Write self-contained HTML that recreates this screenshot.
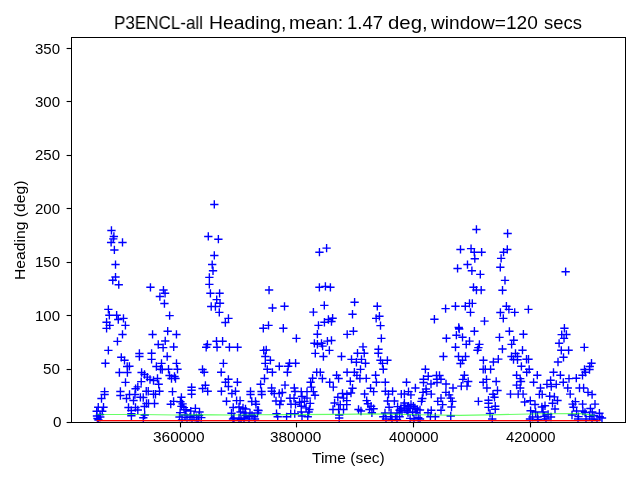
<!DOCTYPE html>
<html><head><meta charset="utf-8"><style>
html,body{margin:0;padding:0;background:#fff;width:640px;height:480px;overflow:hidden;position:relative}
.t{position:absolute;font-family:"Liberation Sans",sans-serif;color:#000;white-space:nowrap;line-height:1;transform-origin:0 0;will-change:transform}
</style></head><body>
<svg width="640" height="480" viewBox="0 0 640 480" style="position:absolute;left:0;top:0"><defs><clipPath id="c"><rect x="71.5" y="37.5" width="554" height="385"/></clipPath></defs><g clip-path="url(#c)"><rect x="96.7" y="421.35" width="503.6" height="0.65" fill="#b8cec8"/><path d="M107.28 230.43h8.33M111.45 226.26v8.33M109.72 236.44h8.33M113.89 232.27v8.33M109.07 238.88h8.33M113.24 234.71v8.33M106.96 242.45h8.33M111.12 238.28v8.33M118.33 242.45h8.33M122.50 238.28v8.33M110.21 249.93h8.33M114.38 245.76v8.33M111.35 264.55h8.33M115.51 260.38v8.33M210.15 204.43h8.33M214.31 200.26v8.33M204.14 236.44h8.33M208.30 232.27v8.33M214.21 239.20h8.33M218.38 235.03v8.33M210.15 255.45h8.33M214.31 251.28v8.33M208.03 264.55h8.33M212.20 260.38v8.33M208.85 270.73h8.33M213.01 266.56v8.33M315.28 252.20h8.33M319.45 248.03v8.33M322.44 248.14h8.33M326.60 243.97v8.33M472.26 229.45h8.33M476.43 225.28v8.33M456.33 249.44h8.33M460.50 245.27v8.33M466.90 248.62h8.33M471.06 244.46v8.33M470.15 252.20h8.33M474.31 248.03v8.33M477.46 252.20h8.33M481.62 248.03v8.33M470.63 258.70h8.33M474.80 254.53v8.33M463.32 264.55h8.33M467.49 260.38v8.33M453.41 268.45h8.33M457.57 264.28v8.33M467.71 270.73h8.33M471.88 266.56v8.33M496.96 258.38h8.33M501.12 254.21v8.33M496.15 267.31h8.33M500.31 263.15v8.33M499.40 252.20h8.33M503.56 248.03v8.33M503.46 233.51h8.33M507.62 229.35v8.33M503.13 249.44h8.33M507.30 245.27v8.33M561.47 271.70h8.33M565.64 267.53v8.33M111.35 277.06h8.33M115.51 272.90v8.33M108.58 280.31h8.33M112.75 276.15v8.33M114.60 284.70h8.33M118.76 280.53v8.33M146.28 287.30h8.33M150.45 283.13v8.33M159.28 290.06h8.33M163.45 285.90v8.33M160.91 293.31h8.33M165.07 289.15v8.33M155.71 296.56h8.33M159.88 292.40v8.33M160.26 303.55h8.33M164.43 299.38v8.33M165.46 315.57h8.33M169.62 311.41v8.33M104.20 309.40h8.33M108.36 305.23v8.33M105.17 315.25h8.33M109.34 311.08v8.33M112.48 315.25h8.33M116.65 311.08v8.33M114.11 319.48h8.33M118.28 315.31v8.33M119.31 318.34h8.33M123.47 314.17v8.33M121.26 325.32h8.33M125.42 321.16v8.33M102.41 322.24h8.33M106.58 318.07v8.33M105.50 325.32h8.33M109.66 321.16v8.33M102.41 328.41h8.33M106.58 324.25v8.33M118.33 334.43h8.33M122.50 330.26v8.33M113.30 341.41h8.33M117.46 337.25v8.33M104.20 350.35h8.33M108.36 346.19v8.33M148.40 334.43h8.33M152.56 330.26v8.33M163.51 331.18h8.33M167.68 327.01v8.33M172.28 334.43h8.33M176.45 330.26v8.33M161.07 340.93h8.33M165.24 336.76v8.33M154.09 344.50h8.33M158.25 340.33v8.33M158.96 347.59h8.33M163.12 343.42v8.33M169.52 346.94h8.33M173.69 342.77v8.33M205.19 277.39h8.33M209.36 273.22v8.33M205.19 284.38h8.33M209.36 280.21v8.33M206.25 293.31h8.33M210.41 289.15v8.33M215.43 293.31h8.33M219.59 289.15v8.33M212.54 299.60h8.33M216.70 295.44v8.33M215.84 303.31h8.33M220.00 299.14v8.33M207.06 306.48h8.33M211.22 302.31v8.33M211.24 306.48h8.33M215.40 302.31v8.33M215.14 312.32h8.33M219.30 308.16v8.33M224.28 318.34h8.33M228.45 314.17v8.33M221.20 322.56h8.33M225.36 318.40v8.33M203.24 344.50h8.33M207.41 340.33v8.33M202.02 347.26h8.33M206.19 343.10v8.33M212.34 341.25h8.33M216.51 337.08v8.33M218.44 341.25h8.33M222.60 337.08v8.33M212.91 347.26h8.33M217.07 343.10v8.33M225.26 347.26h8.33M229.43 343.10v8.33M233.39 347.26h8.33M237.55 343.10v8.33M264.91 290.06h8.33M269.07 285.90v8.33M268.32 307.94h8.33M272.49 303.77v8.33M280.35 306.31h8.33M284.51 302.15v8.33M264.34 325.41h8.33M268.51 321.24v8.33M259.14 328.25h8.33M263.31 324.08v8.33M279.14 328.25h8.33M283.31 324.08v8.33M292.21 338.32h8.33M296.38 334.16v8.33M259.55 350.35h8.33M263.71 346.19v8.33M315.24 287.30h8.33M319.40 283.13v8.33M321.23 286.41h8.33M325.40 282.24v8.33M326.24 287.30h8.33M330.40 283.13v8.33M320.16 305.40h8.33M324.32 301.24v8.33M309.24 312.10h8.33M313.40 307.93v8.33M314.31 325.32h8.33M318.48 321.16v8.33M320.24 322.24h8.33M324.41 318.07v8.33M324.22 319.48h8.33M328.39 315.31v8.33M328.45 318.26h8.33M332.61 314.09v8.33M327.31 321.51h8.33M331.48 317.34v8.33M313.24 334.20h8.33M317.40 330.03v8.33M310.25 343.30h8.33M314.41 339.13v8.33M313.24 344.26h8.33M317.40 340.09v8.33M317.33 343.30h8.33M321.50 339.13v8.33M318.44 346.12h8.33M322.60 341.96v8.33M323.25 341.09h8.33M327.41 336.92v8.33M327.31 340.44h8.33M331.48 336.27v8.33M325.20 350.35h8.33M329.36 346.19v8.33M350.43 302.20h8.33M354.60 298.04v8.33M348.34 314.26h8.33M352.50 310.09v8.33M349.25 331.18h8.33M353.41 327.01v8.33M343.04 334.41h8.33M347.20 330.24v8.33M373.13 306.31h8.33M377.30 302.15v8.33M375.25 316.23h8.33M379.41 312.06v8.33M372.00 318.34h8.33M376.16 314.17v8.33M376.34 325.60h8.33M380.50 321.44v8.33M377.20 338.41h8.33M381.36 334.24v8.33M358.83 346.90h8.33M363.00 342.74v8.33M374.34 349.29h8.33M378.50 345.13v8.33M476.16 274.40h8.33M480.32 270.23v8.33M469.33 287.30h8.33M473.50 283.13v8.33M472.26 290.06h8.33M476.43 285.90v8.33M477.04 290.06h8.33M481.20 285.90v8.33M441.43 308.59h8.33M445.60 304.42v8.33M451.30 306.25h8.33M455.46 302.08v8.33M461.14 306.25h8.33M465.31 302.08v8.33M465.34 303.39h8.33M469.50 299.22v8.33M468.13 303.39h8.33M472.30 299.22v8.33M466.33 312.32h8.33M470.49 308.16v8.33M430.24 319.25h8.33M434.40 315.08v8.33M454.58 327.50h8.33M458.75 323.34v8.33M455.03 329.00h8.33M459.20 324.83v8.33M470.23 331.26h8.33M474.39 327.09v8.33M480.34 321.10h8.33M484.50 316.94v8.33M442.23 338.29h8.33M446.39 334.13v8.33M452.24 335.20h8.33M456.40 331.04v8.33M458.33 337.30h8.33M462.50 333.14v8.33M465.34 341.09h8.33M469.50 336.92v8.33M462.09 344.40h8.33M466.25 340.24v8.33M451.33 347.20h8.33M455.50 343.03v8.33M475.23 344.40h8.33M479.40 340.24v8.33M474.21 347.59h8.33M478.38 343.42v8.33M500.83 280.39h8.33M504.99 276.23v8.33M498.34 290.23h8.33M502.51 286.06v8.33M496.23 312.49h8.33M500.39 308.32v8.33M499.14 318.40h8.33M503.30 314.24v8.33M495.33 337.40h8.33M499.50 333.23v8.33M498.26 349.05h8.33M502.43 344.88v8.33M502.24 306.25h8.33M506.41 302.08v8.33M504.73 309.40h8.33M508.89 305.23v8.33M510.53 312.41h8.33M514.69 308.24v8.33M524.24 309.40h8.33M528.41 305.23v8.33M505.23 331.31h8.33M509.40 327.14v8.33M519.22 334.26h8.33M523.39 330.10v8.33M509.59 340.27h8.33M513.75 336.11v8.33M507.44 344.37h8.33M511.61 340.20v8.33M518.33 350.19h8.33M522.49 346.02v8.33M560.24 328.25h8.33M564.40 324.08v8.33M557.54 334.59h8.33M561.71 330.42v8.33M562.24 334.43h8.33M566.40 330.26v8.33M559.85 338.41h8.33M564.01 334.24v8.33M554.94 343.30h8.33M559.11 339.13v8.33M557.13 350.30h8.33M561.30 346.14v8.33M564.43 350.30h8.33M568.60 346.14v8.33M580.13 347.39h8.33M584.29 343.23v8.33M101.23 363.30h8.33M105.40 359.13v8.33M117.13 357.30h8.33M121.30 353.13v8.33M120.33 360.30h8.33M124.50 356.13v8.33M125.23 366.30h8.33M129.40 362.13v8.33M123.23 372.50h8.33M127.40 368.33v8.33M115.23 372.50h8.33M119.40 368.33v8.33M121.33 382.40h8.33M125.50 378.23v8.33M135.24 353.50h8.33M139.40 349.33v8.33M135.24 356.50h8.33M139.40 352.33v8.33M137.44 372.50h8.33M141.60 368.33v8.33M137.09 381.60h8.33M141.25 377.44v8.33M133.64 386.90h8.33M137.80 382.73v8.33M131.44 388.75h8.33M135.60 384.58v8.33M147.44 353.30h8.33M151.60 349.13v8.33M147.44 359.40h8.33M151.60 355.23v8.33M163.03 356.50h8.33M167.20 352.33v8.33M157.34 363.40h8.33M161.50 359.23v8.33M172.34 363.40h8.33M176.50 359.23v8.33M152.24 366.50h8.33M156.40 362.33v8.33M156.34 369.25h8.33M160.50 365.08v8.33M158.09 369.50h8.33M162.25 365.33v8.33M164.34 369.25h8.33M168.50 365.08v8.33M173.34 369.25h8.33M177.50 365.08v8.33M165.34 375.50h8.33M169.50 371.33v8.33M170.34 376.50h8.33M174.50 372.33v8.33M167.34 378.50h8.33M171.50 374.33v8.33M171.34 378.50h8.33M175.50 374.33v8.33M153.34 378.50h8.33M157.50 374.33v8.33M149.34 380.50h8.33M153.50 376.33v8.33M140.34 374.50h8.33M144.50 370.33v8.33M143.14 377.10h8.33M147.30 372.94v8.33M145.84 379.50h8.33M150.00 375.33v8.33M154.53 384.30h8.33M158.70 380.13v8.33M187.44 387.30h8.33M191.60 383.13v8.33M187.44 390.20h8.33M191.60 386.03v8.33M219.24 363.35h8.33M223.40 359.19v8.33M217.03 372.30h8.33M221.20 368.13v8.33M198.34 369.50h8.33M202.50 365.33v8.33M200.03 372.30h8.33M204.20 368.13v8.33M224.24 379.30h8.33M228.40 375.13v8.33M221.34 382.20h8.33M225.50 378.03v8.33M233.24 382.20h8.33M237.40 378.03v8.33M224.24 386.50h8.33M228.40 382.33v8.33M201.24 385.30h8.33M205.40 381.13v8.33M198.44 388.50h8.33M202.60 384.33v8.33M262.08 350.00h8.33M266.25 345.83v8.33M261.13 356.50h8.33M265.30 352.33v8.33M266.23 360.30h8.33M270.40 356.13v8.33M261.13 363.35h8.33M265.30 359.19v8.33M263.13 369.30h8.33M267.30 365.13v8.33M268.23 372.30h8.33M272.40 368.13v8.33M275.13 366.30h8.33M279.30 362.13v8.33M285.33 363.20h8.33M289.50 359.03v8.33M291.44 363.20h8.33M295.60 359.03v8.33M284.03 366.30h8.33M288.20 362.13v8.33M283.23 372.30h8.33M287.40 368.13v8.33M260.33 378.50h8.33M264.50 374.33v8.33M256.44 384.30h8.33M260.60 380.13v8.33M280.83 385.10h8.33M285.00 380.94v8.33M290.13 388.00h8.33M294.30 383.83v8.33M267.44 388.00h8.33M271.60 383.83v8.33M311.13 353.40h8.33M315.30 349.23v8.33M319.23 356.50h8.33M323.40 352.33v8.33M337.33 356.50h8.33M341.50 352.33v8.33M312.53 372.30h8.33M316.70 368.13v8.33M316.13 372.30h8.33M320.30 368.13v8.33M308.44 378.20h8.33M312.60 374.03v8.33M306.44 382.30h8.33M310.60 378.13v8.33M318.23 378.50h8.33M322.40 374.33v8.33M332.44 375.20h8.33M336.60 371.03v8.33M334.44 378.50h8.33M338.60 374.33v8.33M325.53 382.30h8.33M329.70 378.13v8.33M329.13 387.15h8.33M333.30 382.98v8.33M307.23 387.15h8.33M311.40 382.98v8.33M342.94 372.30h8.33M347.10 368.13v8.33M353.33 353.25h8.33M357.50 349.08v8.33M360.08 353.25h8.33M364.25 349.08v8.33M374.13 353.30h8.33M378.30 349.13v8.33M347.33 359.40h8.33M351.50 355.23v8.33M352.23 362.25h8.33M356.40 358.08v8.33M357.33 359.40h8.33M361.50 355.23v8.33M361.33 363.25h8.33M365.50 359.08v8.33M356.33 369.40h8.33M360.50 365.23v8.33M350.23 372.25h8.33M354.40 368.08v8.33M352.73 375.40h8.33M356.90 371.23v8.33M355.73 378.50h8.33M359.90 374.33v8.33M362.08 378.40h8.33M366.25 374.23v8.33M346.13 381.30h8.33M350.30 377.13v8.33M348.33 388.20h8.33M352.50 384.03v8.33M366.44 388.20h8.33M370.60 384.03v8.33M376.33 360.30h8.33M380.50 356.13v8.33M383.23 360.30h8.33M387.40 356.13v8.33M378.33 363.35h8.33M382.50 359.19v8.33M379.13 369.30h8.33M383.30 365.13v8.33M371.44 375.20h8.33M375.60 371.03v8.33M372.23 382.30h8.33M376.40 378.13v8.33M381.13 382.30h8.33M385.30 378.13v8.33M439.23 356.50h8.33M443.40 352.33v8.33M421.23 369.30h8.33M425.40 365.13v8.33M402.33 382.30h8.33M406.50 378.13v8.33M411.23 388.00h8.33M415.40 383.83v8.33M424.08 376.25h8.33M428.25 372.08v8.33M419.33 379.25h8.33M423.50 375.08v8.33M419.33 382.50h8.33M423.50 378.33v8.33M432.33 375.50h8.33M436.50 371.33v8.33M435.33 375.50h8.33M439.50 371.33v8.33M432.83 379.25h8.33M437.00 375.08v8.33M436.83 379.25h8.33M441.00 375.08v8.33M426.83 384.00h8.33M431.00 379.83v8.33M432.83 382.50h8.33M437.00 378.33v8.33M441.83 384.00h8.33M446.00 379.83v8.33M421.83 389.00h8.33M426.00 384.83v8.33M454.33 356.50h8.33M458.50 352.33v8.33M461.33 356.50h8.33M465.50 352.33v8.33M458.33 360.25h8.33M462.50 356.08v8.33M456.33 363.50h8.33M460.50 359.33v8.33M479.23 360.30h8.33M483.40 356.13v8.33M489.23 362.00h8.33M493.40 357.83v8.33M494.13 359.10h8.33M498.30 354.94v8.33M479.03 369.30h8.33M483.20 365.13v8.33M481.13 369.30h8.33M485.30 365.13v8.33M486.44 369.30h8.33M490.60 365.13v8.33M460.23 375.20h8.33M464.40 371.03v8.33M458.73 379.40h8.33M462.90 375.23v8.33M464.03 381.50h8.33M468.20 377.33v8.33M457.13 386.10h8.33M461.30 381.94v8.33M462.83 386.10h8.33M467.00 381.94v8.33M448.83 388.00h8.33M453.00 383.83v8.33M479.03 382.30h8.33M483.20 378.13v8.33M482.33 379.40h8.33M486.50 375.23v8.33M482.73 388.00h8.33M486.90 383.83v8.33M492.03 381.50h8.33M496.20 377.33v8.33M511.33 353.50h8.33M515.50 349.33v8.33M507.33 356.50h8.33M511.50 352.33v8.33M513.34 356.50h8.33M517.50 352.33v8.33M509.33 359.50h8.33M513.50 355.33v8.33M513.34 359.75h8.33M517.50 355.58v8.33M522.34 359.25h8.33M526.50 355.08v8.33M524.34 359.25h8.33M528.50 355.08v8.33M517.24 366.30h8.33M521.40 362.13v8.33M525.04 369.30h8.33M529.20 365.13v8.33M522.54 372.30h8.33M526.70 368.13v8.33M512.44 375.20h8.33M516.60 371.03v8.33M516.04 378.60h8.33M520.20 374.44v8.33M516.84 381.50h8.33M521.00 377.33v8.33M512.44 385.10h8.33M516.60 380.94v8.33M516.04 388.00h8.33M520.20 383.83v8.33M533.13 375.20h8.33M537.30 371.03v8.33M529.44 382.30h8.33M533.60 378.13v8.33M536.34 388.00h8.33M540.50 383.83v8.33M549.34 372.30h8.33M553.50 368.13v8.33M546.44 380.30h8.33M550.60 376.13v8.33M542.74 384.40h8.33M546.90 380.23v8.33M552.09 384.40h8.33M556.25 380.23v8.33M547.09 386.50h8.33M551.25 382.33v8.33M559.34 357.30h8.33M563.50 353.13v8.33M553.84 362.00h8.33M558.00 357.83v8.33M587.34 363.25h8.33M591.50 359.08v8.33M585.59 366.50h8.33M589.75 362.33v8.33M580.34 369.50h8.33M584.50 365.33v8.33M585.34 369.50h8.33M589.50 365.33v8.33M581.34 372.25h8.33M585.50 368.08v8.33M578.34 375.25h8.33M582.50 371.08v8.33M556.24 375.20h8.33M560.40 371.03v8.33M564.84 378.60h8.33M569.00 374.44v8.33M572.13 378.20h8.33M576.30 374.03v8.33M559.13 382.30h8.33M563.30 378.13v8.33M563.59 388.00h8.33M567.75 383.83v8.33M575.34 388.00h8.33M579.50 383.83v8.33M579.44 388.00h8.33M583.60 383.83v8.33M100.43 391.60h8.33M104.60 387.44v8.33M100.43 394.50h8.33M104.60 390.33v8.33M97.33 398.50h8.33M101.50 394.33v8.33M116.23 391.50h8.33M120.40 387.33v8.33M116.23 395.50h8.33M120.40 391.33v8.33M125.33 394.50h8.33M129.50 390.33v8.33M130.84 394.50h8.33M135.00 390.33v8.33M122.33 398.50h8.33M126.50 394.33v8.33M129.34 400.50h8.33M133.50 396.33v8.33M136.24 397.30h8.33M140.40 393.13v8.33M94.08 407.25h8.33M98.25 403.08v8.33M99.33 407.25h8.33M103.50 403.08v8.33M92.53 411.25h8.33M96.70 407.08v8.33M98.08 411.25h8.33M102.25 407.08v8.33M96.08 417.00h8.33M100.25 412.83v8.33M93.33 418.50h8.33M97.50 414.33v8.33M124.33 407.50h8.33M128.50 403.33v8.33M131.34 407.50h8.33M135.50 403.33v8.33M127.23 413.60h8.33M131.40 409.44v8.33M127.08 410.50h8.33M131.25 406.33v8.33M133.64 410.00h8.33M137.80 405.83v8.33M142.09 391.25h8.33M146.25 387.08v8.33M144.09 391.25h8.33M148.25 387.08v8.33M155.34 391.25h8.33M159.50 387.08v8.33M149.34 394.25h8.33M153.50 390.08v8.33M151.34 394.25h8.33M155.50 390.08v8.33M139.09 397.50h8.33M143.25 393.33v8.33M142.34 403.50h8.33M146.50 399.33v8.33M144.34 403.50h8.33M148.50 399.33v8.33M150.34 403.50h8.33M154.50 399.33v8.33M140.34 406.50h8.33M144.50 402.33v8.33M168.34 391.60h8.33M172.50 387.44v8.33M187.44 394.20h8.33M191.60 390.03v8.33M169.44 401.40h8.33M173.60 397.23v8.33M166.59 404.20h8.33M170.75 400.03v8.33M177.24 397.30h8.33M181.40 393.13v8.33M176.24 401.70h8.33M180.40 397.53v8.33M178.44 403.90h8.33M182.60 399.73v8.33M177.24 406.40h8.33M181.40 402.23v8.33M179.74 407.60h8.33M183.90 403.44v8.33M181.84 409.80h8.33M186.00 405.63v8.33M175.94 412.60h8.33M180.10 408.44v8.33M175.34 417.00h8.33M179.50 412.83v8.33M182.84 417.60h8.33M187.00 413.44v8.33M185.84 417.00h8.33M190.00 412.83v8.33M140.53 415.00h8.33M144.70 410.83v8.33M139.14 417.80h8.33M143.30 413.63v8.33M94.33 420.00h8.33M98.50 415.83v8.33M127.23 415.80h8.33M131.40 411.63v8.33M186.59 411.10h8.33M190.75 406.94v8.33M203.53 391.30h8.33M207.70 387.13v8.33M217.24 391.30h8.33M221.40 387.13v8.33M231.34 391.30h8.33M235.50 387.13v8.33M227.74 393.50h8.33M231.90 389.33v8.33M222.34 401.30h8.33M226.50 397.13v8.33M232.44 400.60h8.33M236.60 396.44v8.33M235.94 400.60h8.33M240.10 396.44v8.33M191.24 408.40h8.33M195.40 404.23v8.33M195.34 412.00h8.33M199.50 407.83v8.33M192.24 417.60h8.33M196.40 413.44v8.33M197.14 417.60h8.33M201.30 413.44v8.33M229.09 407.50h8.33M233.25 403.33v8.33M234.84 407.00h8.33M239.00 402.83v8.33M238.84 408.00h8.33M243.00 403.83v8.33M227.34 413.25h8.33M231.50 409.08v8.33M236.34 412.00h8.33M240.50 407.83v8.33M240.84 413.00h8.33M245.00 408.83v8.33M229.84 418.00h8.33M234.00 413.83v8.33M234.84 418.00h8.33M239.00 413.83v8.33M239.84 418.00h8.33M244.00 413.83v8.33M246.34 391.50h8.33M250.50 387.33v8.33M246.34 394.50h8.33M250.50 390.33v8.33M257.33 391.50h8.33M261.50 387.33v8.33M257.58 394.50h8.33M261.75 390.33v8.33M247.59 401.50h8.33M251.75 397.33v8.33M251.34 401.50h8.33M255.50 397.33v8.33M251.84 404.25h8.33M256.00 400.08v8.33M253.59 410.25h8.33M257.75 406.08v8.33M241.34 409.00h8.33M245.50 404.83v8.33M267.58 391.25h8.33M271.75 387.08v8.33M270.08 393.50h8.33M274.25 389.33v8.33M278.08 392.50h8.33M282.25 388.33v8.33M275.08 393.50h8.33M279.25 389.33v8.33M271.83 401.00h8.33M276.00 396.83v8.33M276.83 401.00h8.33M281.00 396.83v8.33M275.58 404.50h8.33M279.75 400.33v8.33M290.83 391.50h8.33M295.00 387.33v8.33M285.83 398.25h8.33M290.00 394.08v8.33M289.83 398.25h8.33M294.00 394.08v8.33M286.83 404.25h8.33M291.00 400.08v8.33M291.33 404.25h8.33M295.50 400.08v8.33M245.09 416.80h8.33M249.25 412.63v8.33M249.94 416.80h8.33M254.10 412.63v8.33M272.33 413.60h8.33M276.50 409.44v8.33M273.53 416.80h8.33M277.70 412.63v8.33M282.44 416.80h8.33M286.60 412.63v8.33M286.53 413.60h8.33M290.70 409.44v8.33M290.58 413.60h8.33M294.75 409.44v8.33M297.08 391.60h8.33M301.25 387.44v8.33M302.83 391.60h8.33M307.00 387.44v8.33M309.23 391.60h8.33M313.40 387.44v8.33M310.83 395.30h8.33M315.00 391.13v8.33M297.83 396.50h8.33M302.00 392.33v8.33M302.83 398.10h8.33M307.00 393.94v8.33M295.44 402.20h8.33M299.60 398.03v8.33M300.33 401.40h8.33M304.50 397.23v8.33M306.03 403.40h8.33M310.20 399.23v8.33M297.08 406.25h8.33M301.25 402.08v8.33M301.94 407.90h8.33M306.10 403.73v8.33M305.23 409.50h8.33M309.40 405.33v8.33M297.08 412.00h8.33M301.25 407.83v8.33M304.44 412.00h8.33M308.60 407.83v8.33M297.83 416.00h8.33M302.00 411.83v8.33M303.58 416.80h8.33M307.75 412.63v8.33M338.33 393.50h8.33M342.50 389.33v8.33M342.73 394.40h8.33M346.90 390.23v8.33M333.63 397.30h8.33M337.80 393.13v8.33M339.33 398.10h8.33M343.50 393.94v8.33M342.58 400.60h8.33M346.75 396.44v8.33M330.44 403.00h8.33M334.60 398.83v8.33M336.08 404.60h8.33M340.25 400.44v8.33M342.58 404.60h8.33M346.75 400.44v8.33M328.83 409.50h8.33M333.00 405.33v8.33M334.44 409.50h8.33M338.60 405.33v8.33M339.33 409.50h8.33M343.50 405.33v8.33M335.03 415.00h8.33M339.20 410.83v8.33M335.03 418.00h8.33M339.20 413.83v8.33M346.83 393.00h8.33M351.00 388.83v8.33M360.44 394.00h8.33M364.60 389.83v8.33M369.44 391.60h8.33M373.60 387.44v8.33M362.53 400.60h8.33M366.70 396.44v8.33M363.73 403.80h8.33M367.90 399.63v8.33M366.94 406.25h8.33M371.10 402.08v8.33M369.44 408.70h8.33M373.60 404.53v8.33M365.33 409.50h8.33M369.50 405.33v8.33M367.73 412.75h8.33M371.90 408.58v8.33M354.33 409.50h8.33M358.50 405.33v8.33M381.23 391.30h8.33M385.40 387.13v8.33M388.44 391.30h8.33M392.60 387.13v8.33M384.33 394.10h8.33M388.50 389.94v8.33M397.13 394.10h8.33M401.30 389.94v8.33M383.44 401.00h8.33M387.60 396.83v8.33M390.23 401.00h8.33M394.40 396.83v8.33M384.94 407.25h8.33M389.10 403.08v8.33M393.44 406.60h8.33M397.60 402.44v8.33M395.44 410.30h8.33M399.60 406.13v8.33M379.13 416.80h8.33M383.30 412.63v8.33M386.44 416.80h8.33M390.60 412.63v8.33M391.33 416.80h8.33M395.50 412.63v8.33M395.44 416.80h8.33M399.60 412.63v8.33M380.83 413.00h8.33M385.00 408.83v8.33M386.83 413.00h8.33M391.00 408.83v8.33M392.83 413.00h8.33M397.00 408.83v8.33M404.33 391.60h8.33M408.50 387.44v8.33M406.73 394.90h8.33M410.90 390.73v8.33M400.23 394.00h8.33M404.40 389.83v8.33M418.94 392.40h8.33M423.10 388.23v8.33M427.08 394.10h8.33M431.25 389.94v8.33M418.13 398.50h8.33M422.30 394.33v8.33M417.33 401.40h8.33M421.50 397.23v8.33M422.23 391.60h8.33M426.40 387.44v8.33M436.83 398.10h8.33M441.00 393.94v8.33M433.58 401.40h8.33M437.75 397.23v8.33M438.44 404.60h8.33M442.60 400.44v8.33M441.73 392.40h8.33M445.90 388.23v8.33M444.94 394.90h8.33M449.10 390.73v8.33M446.58 398.10h8.33M450.75 393.94v8.33M448.23 401.40h8.33M452.40 397.23v8.33M400.23 403.00h8.33M404.40 398.83v8.33M404.33 406.25h8.33M408.50 402.08v8.33M409.23 406.25h8.33M413.40 402.08v8.33M413.23 409.50h8.33M417.40 405.33v8.33M402.73 410.30h8.33M406.90 406.13v8.33M408.44 412.00h8.33M412.60 407.83v8.33M427.08 410.30h8.33M431.25 406.13v8.33M423.83 412.75h8.33M428.00 408.58v8.33M436.83 410.30h8.33M441.00 406.13v8.33M405.94 418.40h8.33M410.10 414.23v8.33M414.08 417.60h8.33M418.25 413.44v8.33M426.23 416.80h8.33M430.40 412.63v8.33M431.13 416.80h8.33M435.30 412.63v8.33M446.58 416.00h8.33M450.75 411.83v8.33M474.23 401.40h8.33M478.40 397.23v8.33M493.33 390.50h8.33M497.50 386.33v8.33M488.83 394.25h8.33M493.00 390.08v8.33M490.33 397.25h8.33M494.50 393.08v8.33M484.33 400.25h8.33M488.50 396.08v8.33M484.33 403.25h8.33M488.50 399.08v8.33M484.33 407.40h8.33M488.50 403.23v8.33M491.08 406.25h8.33M495.25 402.08v8.33M491.08 409.25h8.33M495.25 405.08v8.33M485.83 413.40h8.33M490.00 409.23v8.33M488.08 419.00h8.33M492.25 414.83v8.33M447.33 407.00h8.33M451.50 402.83v8.33M506.33 394.10h8.33M510.50 389.94v8.33M514.04 394.10h8.33M518.20 389.94v8.33M518.94 394.10h8.33M523.10 389.94v8.33M535.24 394.40h8.33M539.40 390.23v8.33M538.04 394.40h8.33M542.20 390.23v8.33M545.54 396.25h8.33M549.70 392.08v8.33M550.24 396.90h8.33M554.40 392.73v8.33M520.54 402.00h8.33M524.70 397.83v8.33M526.13 400.75h8.33M530.30 396.58v8.33M530.84 404.50h8.33M535.00 400.33v8.33M537.74 407.00h8.33M541.90 402.83v8.33M540.84 405.75h8.33M545.00 401.58v8.33M548.34 403.25h8.33M552.50 399.08v8.33M550.84 409.00h8.33M555.00 404.83v8.33M526.44 410.75h8.33M530.60 406.58v8.33M531.44 412.00h8.33M535.60 407.83v8.33M538.94 412.00h8.33M543.10 407.83v8.33M528.34 417.00h8.33M532.50 412.83v8.33M533.34 417.00h8.33M537.50 412.83v8.33M540.24 416.40h8.33M544.40 412.23v8.33M543.94 414.50h8.33M548.10 410.33v8.33M566.04 394.10h8.33M570.20 389.94v8.33M583.84 392.40h8.33M588.00 388.23v8.33M587.94 394.50h8.33M592.10 390.33v8.33M571.24 401.60h8.33M575.40 397.44v8.33M568.44 404.10h8.33M572.60 399.94v8.33M578.44 404.10h8.33M582.60 399.94v8.33M590.84 404.10h8.33M595.00 399.94v8.33M569.34 407.25h8.33M573.50 403.08v8.33M586.24 408.50h8.33M590.40 404.33v8.33M572.44 411.00h8.33M576.60 406.83v8.33M578.74 411.00h8.33M582.90 406.83v8.33M588.09 412.00h8.33M592.25 407.83v8.33M595.24 413.20h8.33M599.40 409.03v8.33M595.59 416.60h8.33M599.75 412.44v8.33M574.34 416.60h8.33M578.50 412.44v8.33M585.59 416.60h8.33M589.75 412.44v8.33M177.84 420.00h8.33M182.00 415.83v8.33M187.84 420.00h8.33M192.00 415.83v8.33M193.84 420.50h8.33M198.00 416.33v8.33M180.84 415.00h8.33M185.00 410.83v8.33M189.84 415.50h8.33M194.00 411.33v8.33M194.84 415.50h8.33M199.00 411.33v8.33M228.84 419.00h8.33M233.00 414.83v8.33M236.84 419.50h8.33M241.00 415.33v8.33M244.84 419.00h8.33M249.00 414.83v8.33M250.84 419.00h8.33M255.00 414.83v8.33M241.84 415.50h8.33M246.00 411.33v8.33M247.84 415.50h8.33M252.00 411.33v8.33M253.34 413.00h8.33M257.50 408.83v8.33M254.34 410.50h8.33M258.50 406.33v8.33M245.84 413.00h8.33M250.00 408.83v8.33M396.83 408.50h8.33M401.00 404.33v8.33M400.83 408.00h8.33M405.00 403.83v8.33M405.83 408.50h8.33M410.00 404.33v8.33M410.83 408.00h8.33M415.00 403.83v8.33M415.83 410.00h8.33M420.00 405.83v8.33M397.83 412.00h8.33M402.00 407.83v8.33M403.83 412.50h8.33M408.00 408.33v8.33M411.83 412.50h8.33M416.00 408.33v8.33M399.83 405.50h8.33M404.00 401.33v8.33M406.83 404.50h8.33M411.00 400.33v8.33M392.83 419.50h8.33M397.00 415.33v8.33M409.83 419.00h8.33M414.00 414.83v8.33M415.83 419.00h8.33M420.00 414.83v8.33M356.83 411.00h8.33M361.00 406.83v8.33M381.83 419.00h8.33M386.00 414.83v8.33M387.83 419.50h8.33M392.00 415.33v8.33M567.84 415.00h8.33M572.00 410.83v8.33M573.84 419.00h8.33M578.00 414.83v8.33M581.84 419.00h8.33M586.00 414.83v8.33M587.84 419.00h8.33M592.00 414.83v8.33M592.84 420.00h8.33M597.00 415.83v8.33M580.84 412.50h8.33M585.00 408.33v8.33M589.84 415.50h8.33M594.00 411.33v8.33M597.84 418.00h8.33M602.00 413.83v8.33M553.34 400.50h8.33M557.50 396.33v8.33M525.84 419.00h8.33M530.00 414.83v8.33M533.84 419.50h8.33M538.00 415.33v8.33M541.84 419.00h8.33M546.00 414.83v8.33M546.84 417.00h8.33M551.00 412.83v8.33M123.03 366.50h8.33M127.20 362.33v8.33M473.33 350.20h8.33M477.50 346.03v8.33M95.83 414.50h8.33M100.00 410.33v8.33M92.83 416.00h8.33M97.00 411.83v8.33" stroke="#0000ff" stroke-width="1.39" fill="none"/><line x1="96.7" y1="420.5" x2="600.3" y2="420.5" stroke="#ff0000" stroke-width="1.25"/><polyline points="96.7,414.5 140,414.5 175,415.0 200,414.6 232,415.0 280,414.6 340,414.4 375,413.9 420,414.7 460,415.4 500,414.6 540,413.8 580,413.6 594.7,415.4" stroke="#00ff00" stroke-opacity="0.6" stroke-width="1.1" fill="none"/></g><rect x="71.5" y="37.5" width="554" height="385" fill="none" stroke="#000" stroke-width="1.11" shape-rendering="crispEdges"/><line x1="66.6" y1="422.5" x2="71.5" y2="422.5" stroke="#000" stroke-width="1.11"/><line x1="66.6" y1="369.5" x2="71.5" y2="369.5" stroke="#000" stroke-width="1.11"/><line x1="66.6" y1="315.5" x2="71.5" y2="315.5" stroke="#000" stroke-width="1.11"/><line x1="66.6" y1="262.5" x2="71.5" y2="262.5" stroke="#000" stroke-width="1.11"/><line x1="66.6" y1="208.5" x2="71.5" y2="208.5" stroke="#000" stroke-width="1.11"/><line x1="66.6" y1="155.5" x2="71.5" y2="155.5" stroke="#000" stroke-width="1.11"/><line x1="66.6" y1="101.5" x2="71.5" y2="101.5" stroke="#000" stroke-width="1.11"/><line x1="66.6" y1="48.5" x2="71.5" y2="48.5" stroke="#000" stroke-width="1.11"/><line x1="180.5" y1="422.5" x2="180.5" y2="427.4" stroke="#000" stroke-width="1.11"/><line x1="296.5" y1="422.5" x2="296.5" y2="427.4" stroke="#000" stroke-width="1.11"/><line x1="413.5" y1="422.5" x2="413.5" y2="427.4" stroke="#000" stroke-width="1.11"/><line x1="530.5" y1="422.5" x2="530.5" y2="427.4" stroke="#000" stroke-width="1.11"/></svg>
<div class="t" style="left:311.90px;top:451.05px;font-size:14.91px;transform:scaleX(1.0413)">Time (sec)</div>
<div class="t" style="left:152.75px;top:430.75px;font-size:13.79px;transform:scaleX(1.1211)">360000</div>
<div class="t" style="left:269.70px;top:430.75px;font-size:13.79px;transform:scaleX(1.1133)">380000</div>
<div class="t" style="left:388.80px;top:430.75px;font-size:13.79px;transform:scaleX(1.0761)">400000</div>
<div class="t" style="left:505.80px;top:430.75px;font-size:13.79px;transform:scaleX(1.0761)">420000</div>
<div class="t" style="left:34.90px;top:41.75px;font-size:14.00px;transform:scaleX(1.0727)">350</div>
<div class="t" style="left:52.60px;top:414.90px;font-size:14.00px;transform:scaleX(1.0929)">0</div>
<div class="t" style="left:43.00px;top:363.03px;font-size:13.86px;transform:scaleX(1.0929)">50</div>
<div class="t" style="left:34.90px;top:308.81px;font-size:14.00px;transform:scaleX(1.0727)">100</div>
<div class="t" style="left:34.90px;top:255.33px;font-size:14.00px;transform:scaleX(1.0727)">150</div>
<div class="t" style="left:34.90px;top:201.86px;font-size:14.00px;transform:scaleX(1.0727)">200</div>
<div class="t" style="left:34.90px;top:148.39px;font-size:14.00px;transform:scaleX(1.0727)">250</div>
<div class="t" style="left:34.90px;top:94.92px;font-size:14.00px;transform:scaleX(1.0727)">300</div>
<div class="t" style="left:114.40px;top:13.90px;font-size:17.99px;transform:scaleX(0.9467)">P3ENCL-all</div>
<div class="t" style="left:208.50px;top:13.90px;font-size:17.99px;transform:scaleX(1.0761)">Heading,</div>
<div class="t" style="left:288.50px;top:13.90px;font-size:17.99px;transform:scaleX(1.0851)">mean:</div>
<div class="t" style="left:347.00px;top:13.90px;font-size:17.99px;transform:scaleX(1.0303)">1.47</div>
<div class="t" style="left:387.75px;top:13.90px;font-size:17.99px;transform:scaleX(1.1328)">deg,</div>
<div class="t" style="left:431.25px;top:13.90px;font-size:17.99px;transform:scaleX(1.0625)">window=120</div>
<div class="t" style="left:543.50px;top:13.90px;font-size:17.99px;transform:scaleX(1.0257)">secs</div>
<div class="t" style="left:12.80px;top:279.60px;font-size:14.00px;transform:rotate(-90deg) scaleX(1.1200)">Heading (deg)</div>
</body></html>
